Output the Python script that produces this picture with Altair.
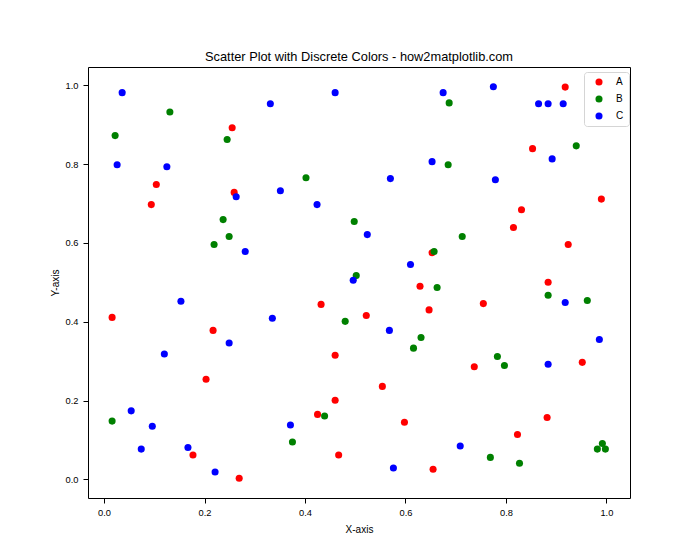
import altair as alt
import pandas as pd

# ---- data ----
categories = ["A", "B", "C"]
colors = ["#ff0000", "#008000", "#0000ff"]

a_x = [0.255, 0.104, 0.094, 0.259, 0.918, 0.853, 0.990, 0.831, 0.815, 0.924, 0.884,
       0.653, 0.629, 0.016, 0.217, 0.203, 0.177, 0.269, 0.432, 0.522, 0.647, 0.460,
       0.554, 0.460, 0.425, 0.598, 0.467, 0.655, 0.755, 0.737, 0.952, 0.882, 0.823]
a_y = [0.892, 0.748, 0.697, 0.728, 0.995, 0.839, 0.711, 0.684, 0.639, 0.596, 0.500,
       0.575, 0.490, 0.411, 0.378, 0.254, 0.062, 0.003, 0.444, 0.416, 0.430, 0.315,
       0.236, 0.201, 0.165, 0.145, 0.062, 0.026, 0.446, 0.286, 0.297, 0.157, 0.114]

b_x = [0.131, 0.022, 0.245, 0.237, 0.249, 0.219, 0.687, 0.685, 0.402, 0.498, 0.657,
       0.502, 0.940, 0.713, 0.016, 0.663, 0.480, 0.631, 0.616, 0.439, 0.375, 0.884,
       0.962, 0.783, 0.797, 0.769, 0.827, 0.992, 0.982, 0.998]
b_y = [0.932, 0.872, 0.862, 0.659, 0.616, 0.596, 0.955, 0.798, 0.765, 0.654, 0.578,
       0.517, 0.846, 0.616, 0.148, 0.487, 0.401, 0.360, 0.333, 0.161, 0.095, 0.467,
       0.454, 0.312, 0.289, 0.056, 0.041, 0.091, 0.077, 0.077]

c_x = [0.036, 0.460, 0.675, 0.331, 0.775, 0.865, 0.884, 0.914, 0.026, 0.125, 0.263,
       0.281, 0.653, 0.570, 0.351, 0.424, 0.524, 0.610, 0.496, 0.892, 0.779, 0.153,
       0.335, 0.249, 0.120, 0.054, 0.096, 0.074, 0.167, 0.221, 0.568, 0.371, 0.576,
       0.918, 0.986, 0.884, 0.709]
c_y = [0.981, 0.981, 0.981, 0.953, 0.996, 0.953, 0.953, 0.953, 0.798, 0.793, 0.717,
       0.578, 0.806, 0.763, 0.732, 0.697, 0.621, 0.545, 0.505, 0.813, 0.760, 0.452,
       0.409, 0.346, 0.318, 0.174, 0.135, 0.077, 0.081, 0.019, 0.378, 0.138, 0.029,
       0.449, 0.355, 0.292, 0.085]

tick_values = [0.0, 0.2, 0.4, 0.6, 0.8, 1.0]

rows = []
for cat, xs, ys in zip(categories, [a_x, b_x, c_x], [a_y, b_y, c_y]):
    for xv, yv in zip(xs, ys):
        rows.append({"x": xv, "y": yv, "category": cat})
df = pd.DataFrame(rows)

FONT = "Liberation Sans"

common_axis = dict(
    values=tick_values, format=".1f", grid=False, domain=False,
    tickSize=5, tickColor="black", tickWidth=1,
    labelFont=FONT, labelFontSize=9.3, labelColor="black", labelPadding=5,
    titleFont=FONT, titleFontSize=10, titleColor="black", titleFontWeight="normal",
)

chart = alt.Chart(df).mark_circle(size=50, opacity=1).encode(
    x=alt.X("x:Q", title="X-axis",
            scale=alt.Scale(domain=[-0.032, 1.047], nice=False, zero=False),
            axis=alt.Axis(titlePadding=7, **common_axis)),
    y=alt.Y("y:Q", title="Y-axis",
            scale=alt.Scale(domain=[-0.047, 1.046], nice=False, zero=False),
            axis=alt.Axis(titlePadding=5, **common_axis)),
    color=alt.Color("category:N",
                    scale=alt.Scale(domain=categories, range=colors),
                    legend=alt.Legend(title=None, orient="none", legendX=496, legendY=5,
                                      padding=5, symbolOffset=5, labelOffset=12,
                                      rowPadding=7, symbolSize=50, symbolType="circle",
                                      labelFont=FONT, labelFontSize=10, labelColor="black",
                                      strokeColor="#d5d5d5", cornerRadius=3,
                                      fillColor="white")),
).properties(
    width=542, height=431,
    title=alt.Title("Scatter Plot with Discrete Colors - how2matplotlib.com",
                    font=FONT, fontSize=12.8, fontWeight="normal", color="black",
                    anchor="middle", baseline="alphabetic", offset=7, dy=14),
    padding={"left": 88, "top": 67, "right": 70, "bottom": 62},
    autosize=alt.AutoSizeParams(type="none"),
).configure_view(stroke="black", strokeWidth=1)

chart.save("out.html", embed_options={"renderer": "svg", "actions": False})
